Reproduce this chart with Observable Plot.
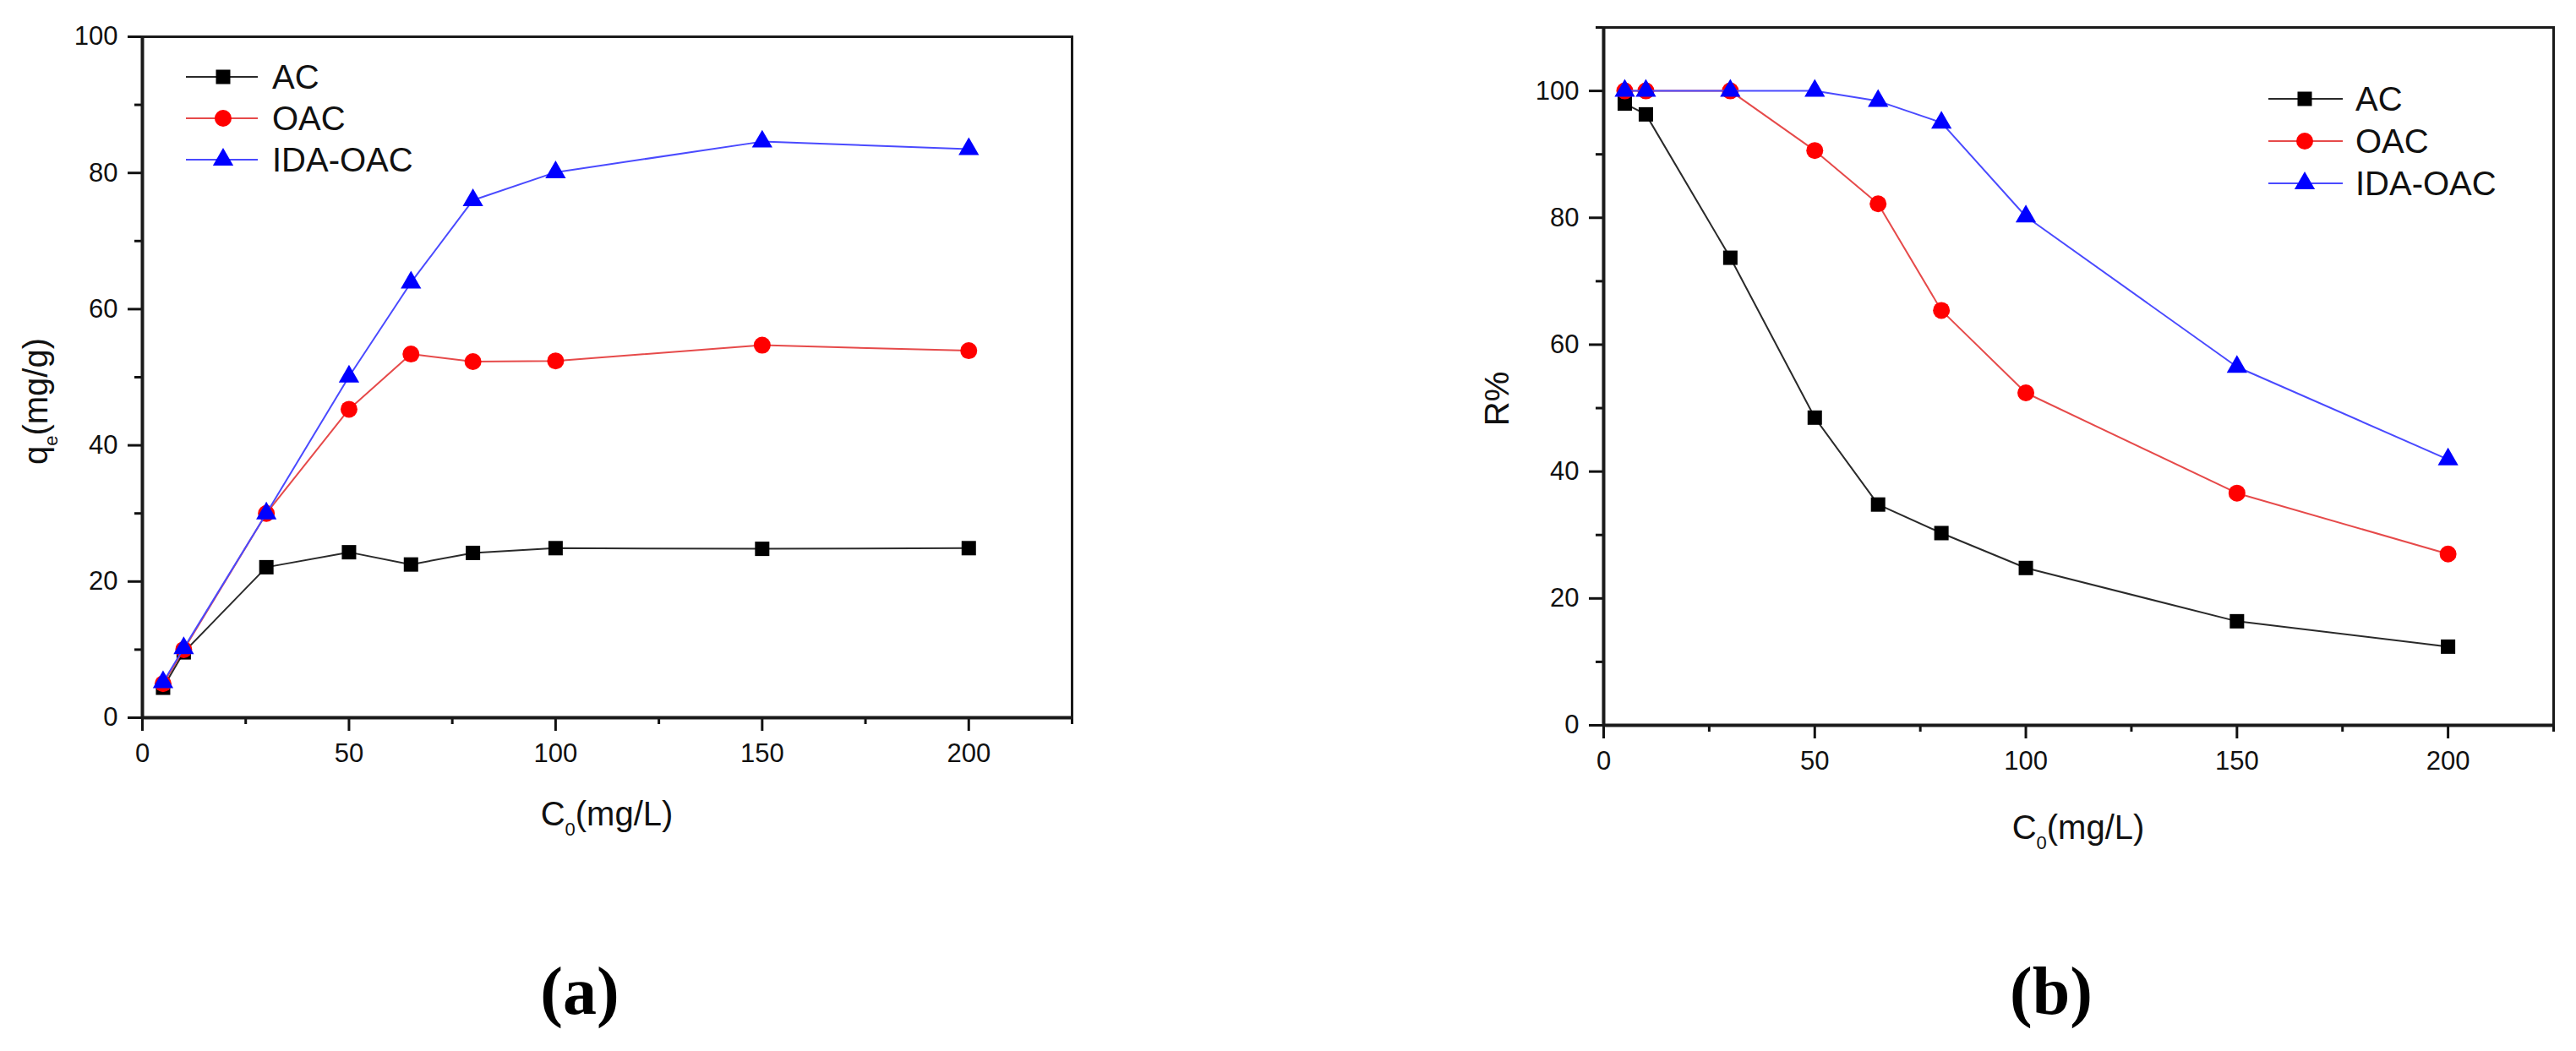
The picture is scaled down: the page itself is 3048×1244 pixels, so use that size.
<!DOCTYPE html>
<html><head><meta charset="utf-8">
<script src="https://cdn.jsdelivr.net/npm/d3@7"></script>
<script src="https://cdn.jsdelivr.net/npm/@observablehq/plot@0.6"></script>
<style>
html,body{margin:0;padding:0;background:#fff;}
#page{position:relative;width:3048px;height:1244px;overflow:hidden;background:#fff;}
#page svg{position:absolute;top:0;}
</style></head><body><div id="page"></div>
<script>
// ---------- data ----------
const conc = [5, 10, 30, 50, 65, 80, 100, 150, 200];
const seriesNames = ["AC", "OAC", "IDA-OAC"];
// panel (a): qe (mg/g)
const qeAC  = [4.4, 9.6, 22.1, 24.3, 22.5, 24.2, 24.9, 24.8, 24.9];
const qeOAC = [5.0, 10.0, 30.0, 45.3, 53.4, 52.3, 52.4, 54.7, 53.9];
const qeIDA = [5.2, 10.2, 30.0, 50.1, 63.9, 76.0, 80.1, 84.6, 83.5];
// panel (b): R %
const rAC  = [98.0, 96.3, 73.7, 48.5, 34.8, 30.3, 24.8, 16.4, 12.4];
const rOAC = [100, 100, 100, 90.6, 82.2, 65.4, 52.4, 36.6, 27.0];
const rIDA = [100, 100, 100, 100, 98.4, 95.0, 80.2, 56.5, 41.9];
// ticks
const xMajor = [0, 50, 100, 150, 200];
const xMinor = [25, 75, 125, 175, 225];
const yMajorA = [0, 20, 40, 60, 80, 100];
const yMinorA = [10, 30, 50, 70, 90];
const yMajorB = [0, 20, 40, 60, 80, 100];
const yMinorB = [10, 30, 50, 70, 90, 110];
const xTitle = ["C", "0", "(mg/L)"];
const yTitleA = ["q", "e", "(mg/g)"];
const yTitleB = "R%";
const captions = ["(a)", "(b)"];

// ---------- styles ----------
const sty = {
  "AC":      {fill: "#000000", line: "#2a2a2a", symbol: "square",   r: 9.6},
  "OAC":     {fill: "#ff0000", line: "#e64a4a", symbol: "circle",   r: 10},
  "IDA-OAC": {fill: "#0000ff", line: "#4a4aff", symbol: "triangle", r: 9}
};
const SANS = "'Liberation Sans', Arial, sans-serif";
const page = document.getElementById("page");

function rows(arrs) {
  const out = [];
  seriesNames.forEach((s, k) => arrs[k].forEach((v, i) => out.push({series: s, c: conc[i], v})));
  return out;
}

function panel({data, yDomain, yMajor, yMinor, left, width, height, mL, mR, mT, mB}) {
  const marks = [
    Plot.axisX(xMajor, {tickSize: 16, tickPadding: 14, strokeWidth: 3, label: null, fill: "#111"}),
    Plot.axisX(xMinor, {tickSize: 8, strokeWidth: 3, tickFormat: () => "", label: null}),
    Plot.axisY(yMajor, {tickSize: 17, tickPadding: 12, strokeWidth: 3, label: null, fill: "#111"}),
    Plot.axisY(yMinor, {tickSize: 9, strokeWidth: 3, tickFormat: () => "", label: null}),
    Plot.frame({stroke: "#1a1a1a", strokeWidth: 3}),
    Plot.ruleY([0], {stroke: "#1a1a1a", strokeWidth: 4}),
    Plot.ruleX([0], {stroke: "#1a1a1a", strokeWidth: 4})
  ];
  for (const s of seriesNames) {
    const d = data.filter(r => r.series === s);
    marks.push(Plot.line(d, {x: "c", y: "v", stroke: sty[s].line, strokeWidth: 2}));
    marks.push(Plot.dot(d, {x: "c", y: "v", symbol: sty[s].symbol, r: sty[s].r, fill: sty[s].fill, stroke: "none"}));
  }
  const svg = Plot.plot({
    width, height, marginLeft: mL, marginRight: mR, marginTop: mT, marginBottom: mB,
    x: {domain: [0, 225]}, y: {domain: yDomain},
    style: {fontFamily: SANS, fontSize: "31px", color: "#111", background: "transparent", overflow: "visible"},
    marks
  });
  svg.style.left = left + "px";
  page.appendChild(svg);
}

panel({data: rows([qeAC, qeOAC, qeIDA]), yDomain: [0, 100], yMajor: yMajorA, yMinor: yMinorA,
  left: 0, width: 1400, height: 1040, mL: 168, mR: 132, mT: 43, mB: 191});
panel({data: rows([rAC, rOAC, rIDA]), yDomain: [0, 110], yMajor: yMajorB, yMinor: yMinorB,
  left: 1524, width: 1524, height: 1040, mL: 373, mR: 27, mT: 32, mB: 182});

// ---------- overlay: legends, axis titles, captions ----------
const ov = d3.select(page).append("svg").attr("width", 3048).attr("height", 1244)
  .style("left", "0px").style("pointer-events", "none").style("font-family", SANS).attr("fill", "#111");

function legend(x1, x2, mx, tx, ys) {
  seriesNames.forEach((s, i) => {
    const y = ys[i];
    ov.append("line").attr("x1", x1).attr("x2", x2).attr("y1", y).attr("y2", y)
      .attr("stroke", sty[s].line).attr("stroke-width", 2);
    const sym = {square: d3.symbolSquare, circle: d3.symbolCircle, triangle: d3.symbolTriangle}[sty[s].symbol];
    ov.append("path").attr("d", d3.symbol(sym, Math.PI * sty[s].r * sty[s].r)())
      .attr("transform", `translate(${mx},${y})`).attr("fill", sty[s].fill);
    ov.append("text").attr("x", tx).attr("y", y + 14).attr("font-size", 40).text(s);
  });
}
legend(220, 305, 264, 322, [91, 140, 189]);
legend(2684, 2772, 2727, 2787, [117, 167, 217]);

function subTitle(parts, attrs) {
  const t = ov.append("text").attr("font-size", 40).attr("text-anchor", "middle");
  for (const k in attrs) t.attr(k, attrs[k]);
  t.append("tspan").text(parts[0]);
  t.append("tspan").attr("font-size", 22).attr("dy", 12).text(parts[1]);
  t.append("tspan").attr("dy", -12).text(parts[2]);
  return t;
}
subTitle(xTitle, {x: 718, y: 977});
subTitle(xTitle, {x: 2459, y: 993});
subTitle(yTitleA, {transform: "translate(56,475) rotate(-90)"});
ov.append("text").attr("font-size", 40).attr("text-anchor", "middle")
  .attr("transform", "translate(1785,472) rotate(-90)").text(yTitleB);

[[686, captions[0]], [2427, captions[1]]].forEach(([x, t]) => {
  ov.append("text").attr("x", x).attr("y", 1200).attr("text-anchor", "middle")
    .attr("font-family", "'Liberation Serif', 'Times New Roman', serif")
    .attr("font-weight", "bold").attr("font-size", 80).attr("fill", "#000").text(t);
});
</script></body></html>
